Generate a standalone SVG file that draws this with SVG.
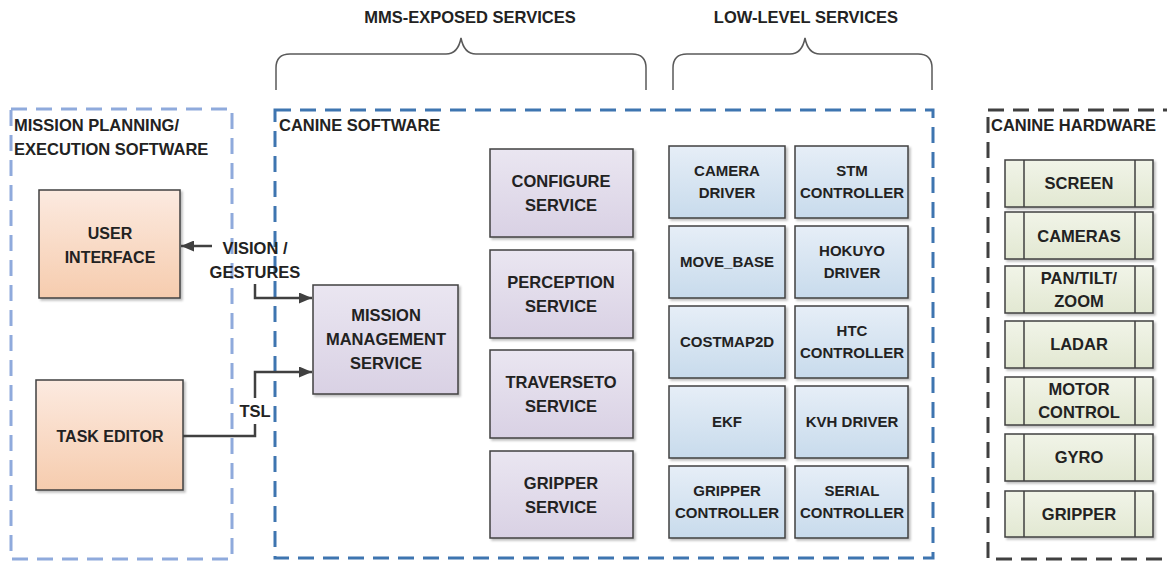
<svg xmlns="http://www.w3.org/2000/svg" width="1167" height="562" viewBox="0 0 1167 562">
<defs>
<linearGradient id="gPeach" x1="0" y1="0" x2="0" y2="1"><stop offset="0" stop-color="#FCEAE0"/><stop offset="1" stop-color="#F6CCAE"/></linearGradient>
<linearGradient id="gLav" x1="0" y1="0" x2="0" y2="1"><stop offset="0" stop-color="#EAE6F1"/><stop offset="1" stop-color="#D9D1E4"/></linearGradient>
<linearGradient id="gBlue" x1="0" y1="0" x2="0" y2="1"><stop offset="0" stop-color="#E6EEF7"/><stop offset="1" stop-color="#C8DBEC"/></linearGradient>
<linearGradient id="gGreen" x1="0" y1="0" x2="0" y2="1"><stop offset="0" stop-color="#F1F4E8"/><stop offset="1" stop-color="#E2E8D2"/></linearGradient>
<filter id="sh" x="-10%" y="-10%" width="130%" height="130%"><feDropShadow dx="2" dy="2" stdDeviation="1.2" flood-color="#000" flood-opacity="0.25"/></filter>
<marker id="arr" markerUnits="userSpaceOnUse" markerWidth="13" markerHeight="11" refX="13" refY="5.5" orient="auto"><path d="M0,0 L13,5.5 L0,11 z" fill="#404040"/></marker>
</defs>
<style>
.t{font-family:"Liberation Sans",Arial,sans-serif;font-weight:bold;fill:#222;text-anchor:middle}
.tl{font-family:"Liberation Sans",Arial,sans-serif;font-weight:bold;fill:#222;font-size:16.5px}
.box{stroke:#404040;stroke-width:1.5;filter:url(#sh)}
.peach{fill:url(#gPeach)}
.lav{fill:url(#gLav)}
.blue{fill:url(#gBlue)}
.green{fill:url(#gGreen)}
.s165{font-size:16.5px}
.s16{font-size:16px}
.s15{font-size:15px}
.conn{fill:none;stroke:#404040;stroke-width:2.5}
.brace{fill:none;stroke:#595959;stroke-width:1.5}
</style>

<g id="brace-mms">
<path class="brace" d="M276,90 L276,68 Q276,54 290,54 L446,54 Q458,54 461,38 Q464,54 476,54 L632,54 Q646,54 646,68 L646,90"/>
<text class="t s165" x="470" y="23">MMS-EXPOSED SERVICES</text>
</g>
<g id="brace-low">
<path class="brace" d="M673,90 L673,68 Q673,54 687,54 L790,54 Q802,54 805,38 Q808,54 820,54 L918,54 Q932,54 932,68 L932,90"/>
<text class="t s165" x="806" y="23">LOW-LEVEL SERVICES</text>
</g>

<g id="group-mission-planning">
<rect x="11" y="109" width="221" height="450" fill="none" stroke="#8FAADC" stroke-width="3" stroke-dasharray="16 9"/>
<text class="tl" x="14" y="131">MISSION PLANNING/</text>
<text class="tl" x="14" y="155">EXECUTION SOFTWARE</text>
</g>
<g id="group-canine-software">
<rect x="275" y="110" width="658" height="448" fill="none" stroke="#3E75B0" stroke-width="3" stroke-dasharray="16 9"/>
<text class="tl" x="279" y="131">CANINE SOFTWARE</text>
</g>
<g id="group-canine-hardware">
<rect x="988" y="110" width="200" height="449" fill="none" stroke="#404040" stroke-width="3" stroke-dasharray="16 9"/>
<text class="tl" x="991" y="131">CANINE HARDWARE</text>
</g>

<g id="user-interface"><rect class="box peach" x="39" y="190" width="141" height="108"/><text class="t s16" x="110" y="239">USER</text><text class="t s16" x="110" y="263">INTERFACE</text></g>
<g id="task-editor"><rect class="box peach" x="36" y="380" width="147" height="110"/><text class="t s16" x="110" y="442">TASK EDITOR</text></g>

<g id="mission-management"><rect class="box lav" x="313" y="285" width="145" height="109"/><text class="t s165" x="386" y="321">MISSION</text><text class="t s165" x="386" y="345">MANAGEMENT</text><text class="t s165" x="386" y="369">SERVICE</text></g>

<g id="configure-service"><rect class="box lav" x="490" y="149" width="143" height="88"/><text class="t s165" x="561" y="187">CONFIGURE</text><text class="t s165" x="561" y="211">SERVICE</text></g>
<g id="perception-service"><rect class="box lav" x="490" y="250" width="143" height="88"/><text class="t s165" x="561" y="288">PERCEPTION</text><text class="t s165" x="561" y="312">SERVICE</text></g>
<g id="traverseto-service"><rect class="box lav" x="490" y="350" width="143" height="88"/><text class="t s165" x="561" y="388">TRAVERSETO</text><text class="t s165" x="561" y="412">SERVICE</text></g>
<g id="gripper-service"><rect class="box lav" x="490" y="451" width="143" height="87"/><text class="t s165" x="561" y="489">GRIPPER</text><text class="t s165" x="561" y="513">SERVICE</text></g>

<g id="camera-driver"><rect class="box blue" x="669" y="146" width="116" height="72"/><text class="t s15" x="727" y="176">CAMERA</text><text class="t s15" x="727" y="198">DRIVER</text></g>
<g id="stm-controller"><rect class="box blue" x="795" y="146" width="113" height="72"/><text class="t s15" x="852" y="176">STM</text><text class="t s15" x="852" y="198">CONTROLLER</text></g>
<g id="move-base"><rect class="box blue" x="669" y="226" width="116" height="72"/><text class="t s15" x="727" y="267">MOVE_BASE</text></g>
<g id="hokuyo-driver"><rect class="box blue" x="795" y="226" width="113" height="72"/><text class="t s15" x="852" y="256">HOKUYO</text><text class="t s15" x="852" y="278">DRIVER</text></g>
<g id="costmap2d"><rect class="box blue" x="669" y="306" width="116" height="72"/><text class="t s15" x="727" y="347">COSTMAP2D</text></g>
<g id="htc-controller"><rect class="box blue" x="795" y="306" width="113" height="72"/><text class="t s15" x="852" y="336">HTC</text><text class="t s15" x="852" y="358">CONTROLLER</text></g>
<g id="ekf"><rect class="box blue" x="669" y="386" width="116" height="72"/><text class="t s15" x="727" y="427">EKF</text></g>
<g id="kvh-driver"><rect class="box blue" x="795" y="386" width="113" height="72"/><text class="t s15" x="852" y="427">KVH DRIVER</text></g>
<g id="gripper-controller"><rect class="box blue" x="669" y="466" width="116" height="72"/><text class="t s15" x="727" y="496">GRIPPER</text><text class="t s15" x="727" y="518">CONTROLLER</text></g>
<g id="serial-controller"><rect class="box blue" x="795" y="466" width="113" height="72"/><text class="t s15" x="852" y="496">SERIAL</text><text class="t s15" x="852" y="518">CONTROLLER</text></g>

<g id="hw-screen"><rect class="box green" x="1005" y="160" width="148" height="47"/><path d="M1024,160V207M1135,160V207" stroke="#404040" stroke-width="1.5"/><text class="t s165" x="1079" y="189">SCREEN</text></g>
<g id="hw-cameras"><rect class="box green" x="1005" y="212" width="148" height="47"/><path d="M1024,212V259M1135,212V259" stroke="#404040" stroke-width="1.5"/><text class="t s165" x="1079" y="242">CAMERAS</text></g>
<g id="hw-pantiltzoom"><rect class="box green" x="1005" y="266" width="148" height="47"/><path d="M1024,266V313M1135,266V313" stroke="#404040" stroke-width="1.5"/><text class="t s165" x="1079" y="284">PAN/TILT/</text><text class="t s165" x="1079" y="307">ZOOM</text></g>
<g id="hw-ladar"><rect class="box green" x="1005" y="321" width="148" height="47"/><path d="M1024,321V368M1135,321V368" stroke="#404040" stroke-width="1.5"/><text class="t s165" x="1079" y="350">LADAR</text></g>
<g id="hw-motor"><rect class="box green" x="1005" y="377" width="148" height="48"/><path d="M1024,377V425M1135,377V425" stroke="#404040" stroke-width="1.5"/><text class="t s165" x="1079" y="395">MOTOR</text><text class="t s165" x="1079" y="418">CONTROL</text></g>
<g id="hw-gyro"><rect class="box green" x="1005" y="434" width="148" height="47"/><path d="M1024,434V481M1135,434V481" stroke="#404040" stroke-width="1.5"/><text class="t s165" x="1079" y="463">GYRO</text></g>
<g id="hw-gripper"><rect class="box green" x="1005" y="491" width="148" height="46"/><path d="M1024,491V537M1135,491V537" stroke="#404040" stroke-width="1.5"/><text class="t s165" x="1079" y="520">GRIPPER</text></g>

<g id="connectors">
<path class="conn" d="M212,246 H181" marker-end="url(#arr)"/>
<path class="conn" d="M255,284 V298 H312" marker-end="url(#arr)"/>
<path class="conn" d="M183,436 H255 V424"/>
<path class="conn" d="M255,398 V372 H312" marker-end="url(#arr)"/>
<text class="t s165" x="255" y="254">VISION /</text>
<text class="t s165" x="255" y="278">GESTURES</text>
<text class="t s165" x="255" y="417">TSL</text>
</g>
</svg>
